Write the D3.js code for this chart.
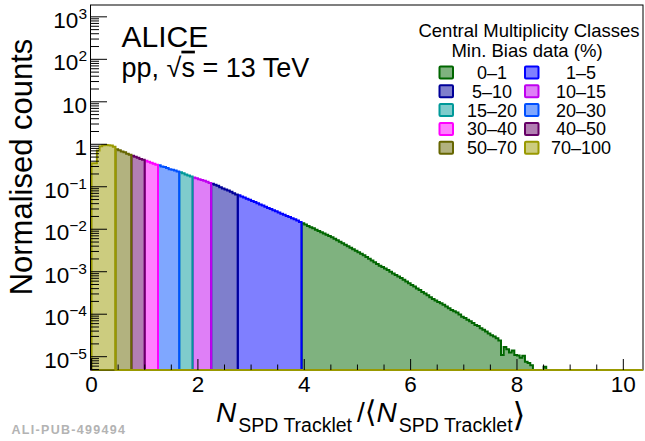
<!DOCTYPE html>
<html><head><meta charset="utf-8">
<script src="https://cdn.jsdelivr.net/npm/d3@7"></script>
<style>
body{margin:0;background:#fff}
svg{display:block}
text{font-family:"Liberation Sans",Arial,Helvetica,sans-serif;fill:#000}
</style>
</head><body>
<svg id="c" width="645" height="441"></svg>
<script>
// ---------------- data ----------------
const binStart = 0;
const binWidth = 0.05;
const counts = [
  0.36, 0.36, 0.71, 0.90, 0.95, 0.96, 0.95, 0.93, 0.88, 0.76,
  0.72, 0.68, 0.65, 0.60, 0.57, 0.54, 0.51, 0.48, 0.45, 0.43,
  0.41, 0.39, 0.37, 0.35, 0.33, 0.32, 0.30, 0.29, 0.275, 0.26,
  0.25, 0.24, 0.23, 0.22, 0.207, 0.195, 0.184, 0.174, 0.166, 0.158,
  0.151, 0.145, 0.138, 0.132, 0.123, 0.117, 0.111, 0.105, 0.0977, 0.0912,
  0.0861, 0.0813, 0.0759, 0.0708, 0.0661, 0.0631, 0.0593, 0.0557, 0.0524, 0.0492,
  0.0462, 0.0435, 0.0408, 0.0384, 0.0361, 0.0339, 0.0318, 0.0299, 0.0281, 0.0264,
  0.0248, 0.0233, 0.0219, 0.0206, 0.0194, 0.0182, 0.0171, 0.0161, 0.0148, 0.0138,
  0.0129, 0.0120, 0.0112, 0.0105, 9.77e-3, 9.12e-3, 8.51e-3, 7.94e-3, 7.41e-3, 6.92e-3,
  6.46e-3, 5.96e-3, 5.50e-3, 5.07e-3, 4.68e-3, 4.32e-3, 3.98e-3, 3.67e-3, 3.39e-3, 3.13e-3,
  2.88e-3, 2.66e-3, 2.43e-3, 2.21e-3, 2.02e-3, 1.84e-3, 1.68e-3, 1.53e-3, 1.38e-3, 1.29e-3,
  1.19e-3, 1.10e-3, 1.00e-3, 9.12e-4, 8.41e-4, 7.67e-4, 7.08e-4, 6.46e-4, 5.89e-4, 5.37e-4,
  4.90e-4, 4.47e-4, 4.03e-4, 3.72e-4, 3.35e-4, 3.09e-4, 2.79e-4, 2.51e-4, 2.29e-4, 2.11e-4,
  1.95e-4, 1.80e-4, 1.66e-4, 1.51e-4, 1.38e-4, 1.26e-4, 1.17e-4, 1.10e-4, 9.8e-5, 8.7e-5,
  8.1e-5, 7.4e-5, 6.8e-5, 6.2e-5, 5.6e-5, 5.3e-5, 4.7e-5, 4.3e-5, 3.9e-5, 3.5e-5,
  3.2e-5, 3.0e-5, 2.7e-5, 2.4e-5, 1.1e-5, 1.7e-5, 1.5e-5, 1.26e-5, 1.4e-5, 1.1e-5,
  1.07e-5, 9.5e-6, 1.05e-5, 7.6e-6, 7.1e-6, 6.3e-6, 0, 0, 0, 0,
  5.8e-6
];
// multiplicity classes, left to right along x, with their x boundaries
const classLabels = ["70–100", "50–70", "40–50", "30–40", "20–30", "15–20", "10–15", "5–10", "1–5", "0–1"];
const classEdges  = [0, 0.45, 0.75, 1.0, 1.25, 1.65, 1.9, 2.25, 2.75, 3.95, 8.55];
const legendOrder = ["0–1", "1–5", "5–10", "10–15", "15–20", "20–30", "30–40", "40–50", "50–70", "70–100"];
const xTicks = [0, 2, 4, 6, 8, 10];
const xMinorStep = 0.5;
const yTickExps = [-5, -4, -3, -2, -1, 0, 1, 2, 3];
const xDomain = [-0.02, 10.37];
const yDomain = [4.86e-6, 1.9e3];

// ---------------- styles ----------------
const lineColor = {
  "0–1": "#006600", "1–5": "#0000ff", "5–10": "#000099", "10–15": "#c000f0",
  "15–20": "#009999", "20–30": "#0050ff", "30–40": "#ff00ff", "40–50": "#660066",
  "50–70": "#666600", "70–100": "#999900"
};
const fillAlpha = 0.5;

// ---------------- drawing ----------------
const svg = d3.select("#c");
const plot = {l: 90.5, r: 643, t: 5, b: 370};
const x = d3.scaleLinear().domain(xDomain).range([plot.l, plot.r]);
const y = d3.scaleLog().domain(yDomain).range([plot.b, plot.t]).clamp(true);
const yv = v => v > 0 ? y(v) : plot.b;

svg.append("defs").append("clipPath").attr("id", "clip")
  .append("rect").attr("x", plot.l + 0.5).attr("y", plot.t)
  .attr("width", plot.r - plot.l - 0.5).attr("height", plot.b - plot.t + 1.5);

// frame
svg.append("rect").attr("x", plot.l).attr("y", plot.t)
  .attr("width", plot.r - plot.l).attr("height", plot.b - plot.t)
  .attr("fill", "none").attr("stroke", "#000").attr("stroke-width", 1);

const gH = svg.append("g").attr("clip-path", "url(#clip)");

function binsOf(lo, hi) {
  const i0 = Math.round((lo - binStart) / binWidth), i1 = Math.round((hi - binStart) / binWidth);
  const pts = [];
  for (let i = i0; i < i1; i++) {
    const v = i < counts.length ? counts[i] : 0;
    pts.push([x(binStart + i * binWidth), yv(v)]);
    pts.push([x(binStart + (i + 1) * binWidth), yv(v)]);
  }
  return pts;
}

// draw 0-1 first, 70-100 last
for (let k = classLabels.length - 1; k >= 0; k--) {
  const lab = classLabels[k];
  const lo = classEdges[k], hi = classEdges[k + 1];
  const pts = binsOf(lo, hi);
  const c = d3.color(lineColor[lab]);
  const fc = d3.color(lineColor[lab]); fc.opacity = fillAlpha;
  const area = [[x(lo), plot.b], ...pts, [x(hi), plot.b]];
  gH.append("path").attr("d", d3.line()(area) + "Z")
    .attr("fill", fc.toString()).attr("stroke", "none");
  const outline = [[x(Math.max(0, xDomain[0])), plot.b], [x(lo), plot.b], ...pts, [x(hi), plot.b], [x(xDomain[1]), plot.b]];
  gH.append("path").attr("d", d3.line()(outline))
    .attr("fill", "none").attr("stroke", c.toString()).attr("stroke-width", 2)
    .attr("stroke-linejoin", "miter");
}

// ticks
const gT = svg.append("g").attr("stroke", "#000").attr("stroke-width", 1);
xTicks.forEach(t => {
  gT.append("line").attr("x1", x(t)).attr("x2", x(t)).attr("y1", plot.b).attr("y2", plot.b - 11);
});
for (let t = 0; t <= xDomain[1] + 1e-9; t += xMinorStep) {
  if (Math.abs(t / 2 - Math.round(t / 2)) < 1e-6) continue;
  gT.append("line").attr("x1", x(t)).attr("x2", x(t)).attr("y1", plot.b).attr("y2", plot.b - 5.5);
}
yTickExps.forEach(e => {
  const yy = y(Math.pow(10, e));
  gT.append("line").attr("x1", plot.l).attr("x2", plot.l + 16.5).attr("y1", yy).attr("y2", yy);
});
for (let d = -6; d <= 3; d++) {
  for (let m = 2; m <= 9; m++) {
    const v = m * Math.pow(10, d);
    if (v < yDomain[0] || v > yDomain[1]) continue;
    const yy = y(v);
    gT.append("line").attr("x1", plot.l).attr("x2", plot.l + 8.5).attr("y1", yy).attr("y2", yy);
  }
}

// tick labels
xTicks.forEach(t => {
  svg.append("text").attr("x", x(t)).attr("y", plot.b + 21.5)
    .attr("text-anchor", "middle").attr("font-size", 22.5).text(t);
});
yTickExps.forEach(e => {
  const yy = y(Math.pow(10, e));
  const t = svg.append("text").attr("x", plot.l - 3.5).attr("y", yy + 11)
    .attr("text-anchor", "end").attr("font-size", 22.5);
  if (e === 0) t.text("1");
  else if (e === 1) t.text("10");
  else {
    t.append("tspan").text("10");
    t.append("tspan").attr("dy", -9).attr("font-size", 15.5)
      .text((e < 0 ? "\u2212" : "") + Math.abs(e));
  }
});

// axis titles
svg.append("text").attr("transform", "translate(32,167) rotate(-90)")
  .attr("text-anchor", "middle").attr("font-size", 31).text("Normalised counts");

const xt = svg.append("text").attr("x", 216).attr("y", 421.5).attr("font-size", 28);
xt.append("tspan").attr("font-style", "italic").text("N");
xt.append("tspan").attr("font-size", 19.5).attr("dy", 10.5).attr("dx", 2).text("SPD Tracklet");
xt.append("tspan").attr("dy", -10.5).attr("dx", 5).text("/");
xt.append("tspan").attr("font-family", "DejaVu Sans").attr("font-size", 30).text("\u27E8");
xt.append("tspan").attr("font-style", "italic").text("N");
xt.append("tspan").attr("font-size", 19.5).attr("dy", 10.5).attr("dx", 2).text("SPD Tracklet");
xt.append("tspan").attr("font-family", "DejaVu Sans").attr("font-size", 33).attr("dy", -6.5).text("\u27E9");

// ALICE labels
svg.append("text").attr("x", 121.5).attr("y", 46.7).attr("font-size", 30).text("ALICE");
const pp = svg.append("text").attr("x", 121.5).attr("y", 76.7).attr("font-size", 27);
pp.append("tspan").text("pp, ");
pp.append("tspan").text("\u221A");
pp.append("tspan").attr("style", "text-decoration: overline").text("s");
pp.append("tspan").text(" = 13 TeV");

// legend
svg.append("text").attr("x", 529).attr("y", 36.7).attr("text-anchor", "middle")
  .attr("font-size", 18.5).text("Central Multiplicity Classes");
svg.append("text").attr("x", 527).attr("y", 56.7).attr("text-anchor", "middle")
  .attr("font-size", 18.5).text("Min. Bias data (%)");
const boxX = [439.5, 525], labX = [492, 581];
legendOrder.forEach((lab, j) => {
  const col = j % 2, row = Math.floor(j / 2);
  const cy = 72.5 + row * 18.8;
  const fc = d3.color(lineColor[lab]); fc.opacity = fillAlpha;
  svg.append("rect").attr("x", boxX[col]).attr("y", cy - 6).attr("width", 13.5).attr("height", 12)
    .attr("fill", fc.toString()).attr("stroke", lineColor[lab]).attr("stroke-width", 2).attr("rx", 1);
  svg.append("text").attr("x", labX[col]).attr("y", cy + 6.5).attr("text-anchor", "middle")
    .attr("font-size", 18).text(lab);
});

// publication id
svg.append("text").attr("x", 11.5).attr("y", 434.3)
  .attr("font-family", "DejaVu Sans Mono").attr("font-weight", "bold")
  .attr("font-size", 12.5).attr("letter-spacing", 1.3).style("fill", "#b3b3b3")
  .text("ALI-PUB-499494");
</script>
</body></html>
